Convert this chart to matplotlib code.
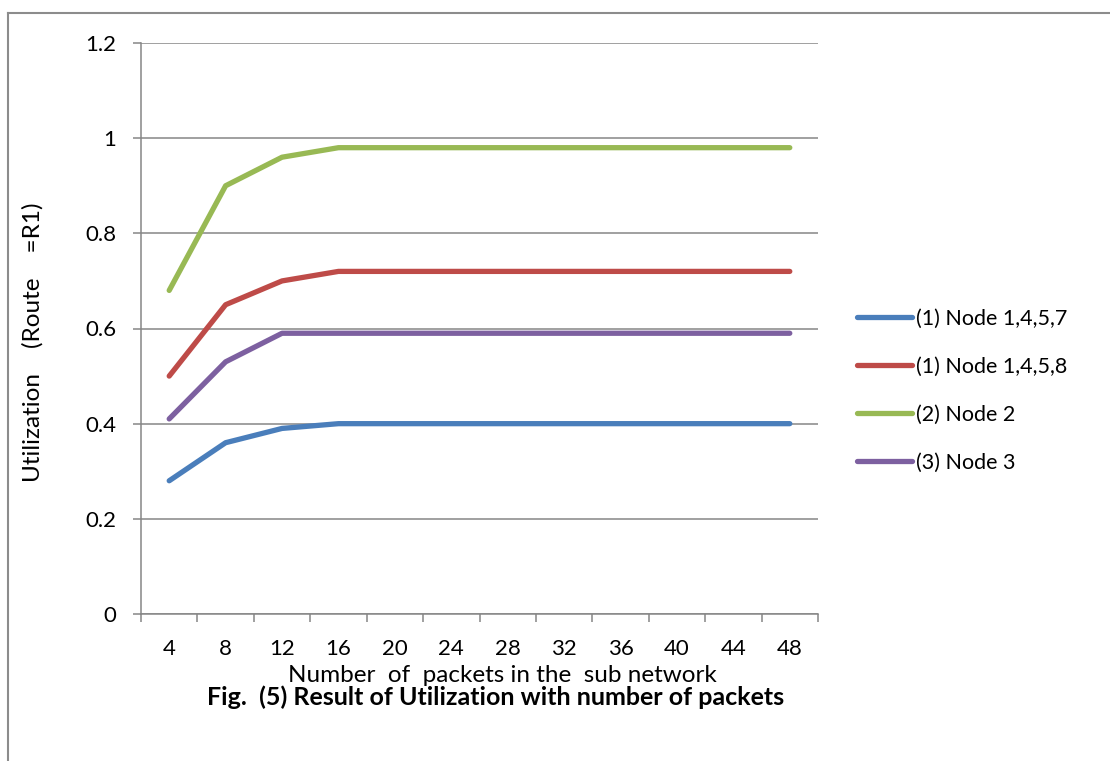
import matplotlib.pyplot as plt
from matplotlib.lines import Line2D

# packets in the sub network (category axis)
packets = [4, 8, 12, 16, 20, 24, 28, 32, 36, 40, 44, 48]

node_1457 = [0.28, 0.36, 0.39, 0.40, 0.40, 0.40, 0.40, 0.40, 0.40, 0.40, 0.40, 0.40]
node_1458 = [0.50, 0.65, 0.70, 0.72, 0.72, 0.72, 0.72, 0.72, 0.72, 0.72, 0.72, 0.72]
node_2 = [0.68, 0.90, 0.96, 0.98, 0.98, 0.98, 0.98, 0.98, 0.98, 0.98, 0.98, 0.98]
node_3 = [0.41, 0.53, 0.59, 0.59, 0.59, 0.59, 0.59, 0.59, 0.59, 0.59, 0.59, 0.59]

labels = ["(1) Node 1,4,5,7", "(1) Node 1,4,5,8", "(2) Node 2", "(3) Node 3"]
colors = ["#4A7EBB", "#BE4B48", "#98B954", "#7D60A0"]
series = [node_1457, node_1458, node_2, node_3]

plt.rcParams['font.family'] = ['Lato', 'DejaVu Sans']
W, H = 1110, 761
fig = plt.figure(figsize=(W/100, H/100), dpi=100)

# outer chart frame (only top and left edges visible)
fig.add_artist(Line2D([8/W, 8/W], [0, 1 - 13/H], color="#8c8c8c", lw=1.5))
fig.add_artist(Line2D([8/W, 1], [1 - 13/H, 1 - 13/H], color="#8c8c8c", lw=1.5))

ax = fig.add_axes([141/W, 1 - 614/H, (818 - 141)/W, (614 - 43)/H])

x = list(range(len(packets)))
for ys, c, lab in zip(series, colors, labels):
    ax.plot(x, ys, color=c, lw=3.8, label=lab, solid_capstyle='round', solid_joinstyle='round', zorder=3)

ax.set_xlim(-0.5, len(packets) - 0.5)
ax.set_ylim(0, 1.2)
ax.set_yticks([0, 0.2, 0.4, 0.6, 0.8, 1.0, 1.2])
ax.set_yticklabels(["0", "0.2", "0.4", "0.6", "0.8", "1", "1.2"])
ax.set_xticks(x)
ax.set_xticklabels([str(p) for p in packets])
ax.set_xticks([i - 0.5 for i in range(len(packets) + 1)], minor=True)

ax.grid(axis='y', color="#868686", lw=1.1, zorder=1)
for s in ['top', 'right']:
    ax.spines[s].set_visible(False)
for s in ['left', 'bottom']:
    ax.spines[s].set_color("#868686")
    ax.spines[s].set_linewidth(1.1)

ax.tick_params(axis='y', length=6, width=1.1, color="#868686", pad=12, labelsize=16)
ax.tick_params(axis='x', which='major', length=0, pad=18, labelsize=16)
ax.tick_params(axis='x', which='minor', length=6, width=1.1, color="#868686")

fig.text(502/W, 1 - 676/H, "Number  of  packets in the  sub network", ha='center', va='center', fontsize=17.5)
fig.text(496/W, 1 - 697/H, "Fig.  (5) Result of Utilization with number of packets", ha='center', va='center',
         fontsize=18, fontweight='bold')
fig.text(33/W, 1 - 342/H, "Utilization    (Route    =R1)", rotation=90, ha='center', va='center', fontsize=17.5)

fig.legend(loc='center left', bbox_to_anchor=(848/W, 1 - 391/H), frameon=False, fontsize=15.5,
           handlelength=2.55, handletextpad=0.2, labelspacing=1.3, borderaxespad=0)

fig.savefig("out.png", dpi=100)
